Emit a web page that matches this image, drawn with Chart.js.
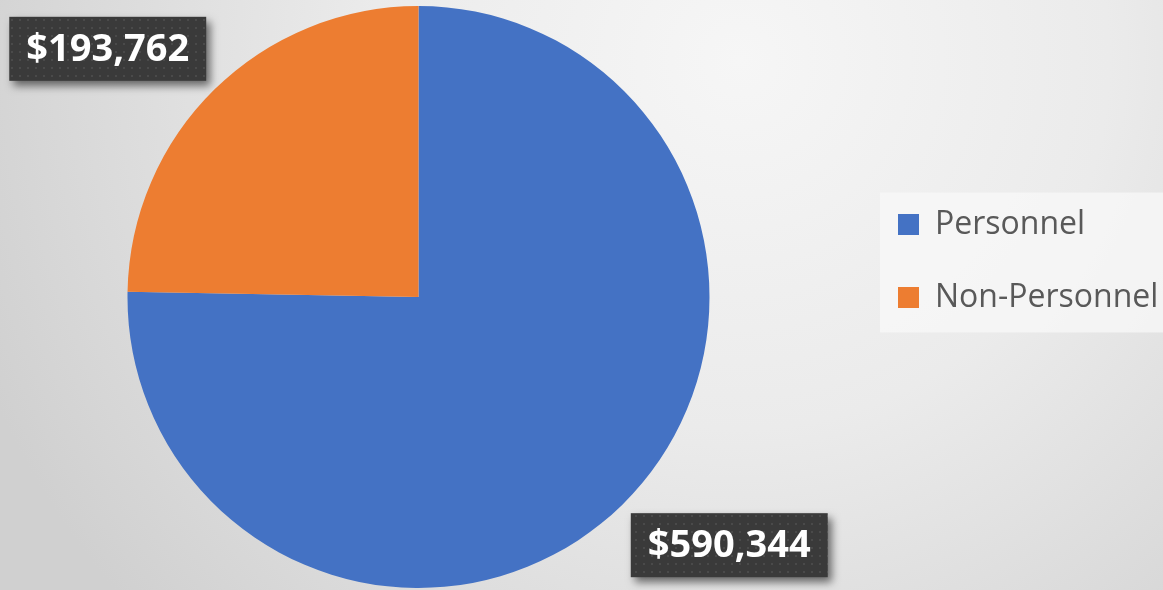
<!DOCTYPE html>
<html>
<head>
<meta charset="utf-8">
<script src="https://cdn.jsdelivr.net/npm/chart.js@4/dist/chart.umd.min.js"></script>
<style>
  html, body { margin: 0; padding: 0; background: #e6e6e6; }
  canvas { display: block; }
</style>
</head>
<body>
<canvas id="budget_chart" width="1163" height="590"></canvas>
<script>
const categories = ["Personnel", "Non-Personnel"];
const amounts = [590344, 193762];
const slice_colors = ["#4472C4", "#ED7D31"];

const budget_ctx = document.getElementById("budget_chart");

// dotted dark texture used behind the value labels
const dot_canvas = document.createElement("canvas");
dot_canvas.width = 8;
dot_canvas.height = 8;
const dot_ctx = dot_canvas.getContext("2d");
dot_ctx.fillStyle = "#3a3a3a";
dot_ctx.fillRect(0, 0, 8, 8);
dot_ctx.fillStyle = "#4a4a4a";
dot_ctx.fillRect(3, 3, 2, 2);

const background_plugin = {
  id: "background_plugin",
  afterLayout(chart) {
    // legend sits a bit above the middle, pie a bit left of its area
    const legend = chart.legend;
    legend.top -= 34;
    legend.bottom -= 34;
    chart.chartArea.left -= 10;
    chart.chartArea.right -= 10;
    chart.chartArea.top += 2;
    chart.chartArea.bottom += 2;
  },
  beforeDraw(chart) {
    const c = chart.ctx;
    const w = chart.width, h = chart.height;
    const grad = c.createRadialGradient(740, 60, 0, 740, 60, 820);
    grad.addColorStop(0, "#f6f6f6");
    grad.addColorStop(0.45, "#ebebeb");
    grad.addColorStop(1, "#d0d0d0");
    c.save();
    c.fillStyle = grad;
    c.fillRect(0, 0, w, h);

    // legend panel
    const legend = chart.legend;
    const pad = legend.options.labels.padding;
    const fs = legend.options.labels.font.size;
    const first_mid = (legend.top + legend.bottom - legend.columnSizes[0].height + pad) / 2 + fs / 2;
    const rows = categories.length;
    const step = fs + pad;
    c.fillStyle = "rgba(248,248,248,0.75)";
    c.fillRect(legend.left + pad - 18, first_mid - 32, w, step * (rows - 1) + 32 + 35);
    c.restore();
  },
};

const label_plugin = {
  id: "label_plugin",
  afterDatasetsDraw(chart) {
    const c = chart.ctx;
    const meta = chart.getDatasetMeta(0);
    c.save();
    c.font = "bold 38px 'Open Sans'";
    c.textAlign = "center";
    c.textBaseline = "middle";
    meta.data.forEach((arc, i) => {
      const p = arc.getProps(["x", "y", "startAngle", "endAngle", "outerRadius"], true);
      const mid = (p.startAngle + p.endAngle) / 2;
      const cx = p.x + Math.cos(mid) * (p.outerRadius + 12);
      const cy = p.y + Math.sin(mid) * (p.outerRadius + 12);
      const text = "$" + amounts[i].toLocaleString("en-US");
      const bw = c.measureText(text).width + 34;
      const bh = 64;
      let bx = Math.cos(mid) < 0 ? cx - bw : cx;
      let by = Math.sin(mid) < 0 ? cy - bh : cy;
      bx = Math.max(6, Math.min(chart.width - bw - 6, bx));
      by = Math.max(6, Math.min(chart.height - bh - 12, by));

      c.save();
      c.shadowColor = "rgba(0,0,0,0.55)";
      c.shadowBlur = 8;
      c.shadowOffsetX = 4;
      c.shadowOffsetY = 5;
      c.fillStyle = c.createPattern(dot_canvas, "repeat");
      c.fillRect(bx, by, bw, bh);
      c.restore();

      c.fillStyle = "#ffffff";
      c.fillText(text, bx + bw / 2, by + bh / 2 + 1);
    });
    c.restore();
  },
};

const budget_config = {
  type: "pie",
  data: {
    labels: categories,
    datasets: [
      {
        data: amounts,
        backgroundColor: slice_colors,
        borderWidth: 0,
      },
    ],
  },
  options: {
    responsive: false,
    animation: false,
    radius: 291,
    plugins: {
      legend: {
        position: "right",
        maxWidth: 306,
        labels: {
          boxWidth: 21,
          boxHeight: 21,
          padding: 41,
          color: "#595959",
          font: { family: "'Open Sans'", size: 32 },
        },
      },
      tooltip: { enabled: false },
    },
  },
  plugins: [background_plugin, label_plugin],
};

const budget_chart = new Chart(budget_ctx, budget_config);
</script>
</body>
</html>
